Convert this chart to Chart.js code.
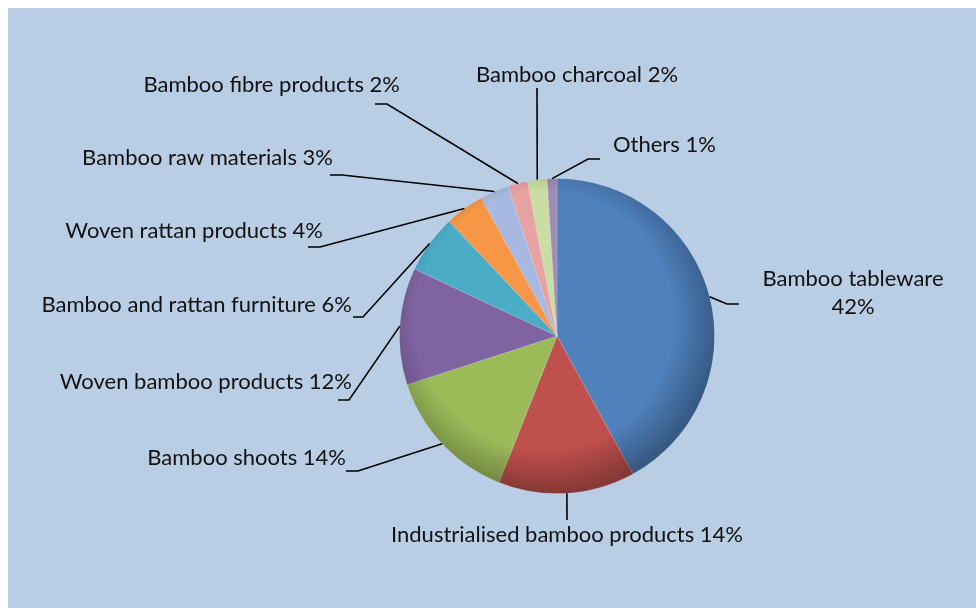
<!DOCTYPE html>
<html><head><meta charset="utf-8">
<script src="https://cdn.jsdelivr.net/npm/chart.js@4/dist/chart.umd.min.js"></script>
<style>html,body{margin:0;padding:0;background:#fff;overflow:hidden}</style>
</head><body>
<canvas id="c" width="976" height="608"></canvas>
<script>
// ---- data ----
const categories = [
  "Bamboo tableware",
  "Industrialised bamboo products",
  "Bamboo shoots",
  "Woven bamboo products",
  "Bamboo and rattan furniture",
  "Woven rattan products",
  "Bamboo raw materials",
  "Bamboo fibre products",
  "Bamboo charcoal",
  "Others"
];
const shares = [42, 14, 14, 12, 6, 4, 3, 2, 2, 1];

// ---- styles / layout ----
const sliceColors = ["#4F81BD","#C0504D","#9BBB59","#8064A2","#4BACC6","#F79646","#A7B9E0","#E6A3A2","#CADDA3","#9D8DB8"];
// label text anchor (x,y,align) and horizontal leader segment (x1->x2 at y)
const labelLayout = [
  {lines:2, x:853, y:279, align:"center", seg:[739,727,304]},
  {x:567, y:535, align:"center", seg:[567,567,520]},
  {x:346, y:458, align:"right", seg:[346,358,471]},
  {x:352, y:382, align:"right", seg:[338,349,400]},
  {x:352, y:305, align:"right", seg:[353,363,317]},
  {x:323, y:231, align:"right", seg:[308,320,247]},
  {x:333, y:158, align:"right", seg:[330,342,175]},
  {x:400, y:85,  align:"right", seg:[375,387,104]},
  {x:577, y:75,  align:"center", seg:[537,537,88]},
  {x:613, y:145, align:"left", seg:[600,588,159]}
];
const FONT = '22px Lato, "Liberation Sans", sans-serif';

const bgPlugin = {
  id: 'bg',
  beforeDraw(chart) {
    const ctx = chart.ctx;
    ctx.save();
    ctx.fillStyle = '#fff';
    ctx.fillRect(0, 0, chart.width, chart.height);
    ctx.fillStyle = '#B9CDE5';
    ctx.fillRect(8, 8, chart.width - 8, chart.height - 8);
    ctx.restore();
  }
};

const shadePlugin = {
  id: 'shade',
  afterDatasetsDraw(chart) {
    const arc = chart.getDatasetMeta(0).data[0];
    if (!arc) return;
    const ctx = chart.ctx;
    const cx = arc.x, cy = arc.y, r = arc.outerRadius;
    ctx.save();
    ctx.beginPath();
    ctx.arc(cx, cy, r, 0, Math.PI * 2);
    ctx.clip();
    const g = ctx.createRadialGradient(cx - r * 0.08, cy - r * 0.1, r * 0.82, cx - r * 0.08, cy - r * 0.1, r * 1.1);
    g.addColorStop(0, 'rgba(0,0,0,0)');
    g.addColorStop(1, 'rgba(0,0,0,0.3)');
    ctx.fillStyle = g;
    ctx.fillRect(cx - r, cy - r, 2 * r, 2 * r);
    ctx.restore();
  }
};

const labelPlugin = {
  id: 'labels',
  afterDraw(chart) {
    const ctx = chart.ctx;
    const meta = chart.getDatasetMeta(0);
    ctx.save();
    ctx.font = FONT;
    ctx.fillStyle = '#111';
    ctx.strokeStyle = '#000';
    ctx.lineWidth = 1.6;
    ctx.textBaseline = 'middle';
    meta.data.forEach((arc, i) => {
      const L = labelLayout[i];
      const mid = (arc.startAngle + arc.endAngle) / 2;
      const ax = arc.x + Math.cos(mid) * arc.outerRadius;
      const ay = arc.y + Math.sin(mid) * arc.outerRadius;
      const [x1, x2, sy] = L.seg;
      ctx.beginPath();
      ctx.moveTo(x1, sy);
      ctx.lineTo(x2, sy);
      ctx.lineTo(ax, ay);
      ctx.stroke();
      ctx.textAlign = L.align;
      const pct = shares[i] + '%';
      if (L.lines === 2) {
        ctx.fillText(categories[i], L.x, L.y);
        ctx.fillText(pct, L.x, L.y + 28);
      } else {
        ctx.fillText(categories[i] + ' ' + pct, L.x, L.y);
      }
    });
    ctx.restore();
  }
};

new Chart(document.getElementById('c'), {
  type: 'pie',
  data: {
    labels: categories,
    datasets: [{
      data: shares,
      backgroundColor: sliceColors,
      borderColor: 'rgba(255,255,255,0.15)',
      borderWidth: 1,
      hoverOffset: 0
    }]
  },
  options: {
    responsive: false,
    animation: false,
    events: [],
    layout: { padding: { left: 399, right: 261, top: 177, bottom: 113 } },
    plugins: { legend: { display: false }, tooltip: { enabled: false } }
  },
  plugins: [bgPlugin, shadePlugin, labelPlugin]
});
</script>
</body></html>
